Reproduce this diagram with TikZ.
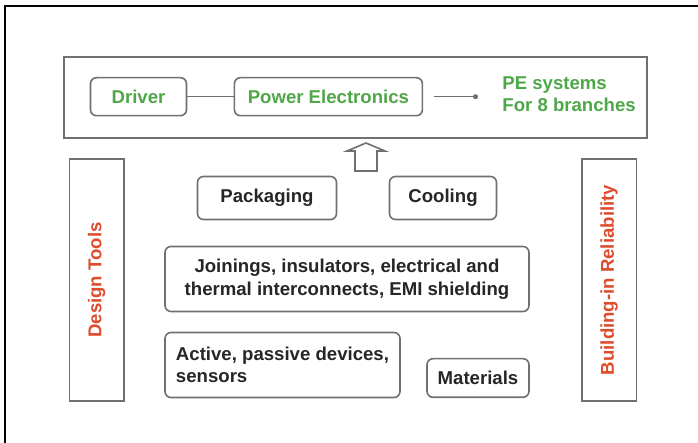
\documentclass[tikz,border=0pt]{standalone}
\usepackage{fontspec}
\setmainfont{Liberation Sans}
\usetikzlibrary{arrows.meta}

\definecolor{pegreen}{RGB}{78,168,72}
\definecolor{relred}{RGB}{222,76,46}
\definecolor{boxgray}{RGB}{112,112,112}
\definecolor{txtgray}{RGB}{38,38,38}

\tikzset{
  layer/.style={draw=boxgray, line width=.8pt, rounded corners=3pt, inner sep=0pt, align=center, text=txtgray},
  pillar/.style={draw=boxgray, line width=.8pt, rotate=90, minimum width=121pt, minimum height=27.3pt, inner sep=0pt, text=relred}
}

\begin{document}
\begin{tikzpicture}[x=.5pt, y=-.5pt, font=\fontsize{9.3}{11.3}\selectfont\bfseries]

  \useasboundingbox (0,0) rectangle (698,443);
  \fill[white] (0,0) rectangle (698,443);
  \draw[line width=.7pt] (5,443) -- (5,6) -- (698,6);

  \node[draw=boxgray, line width=1pt, minimum width=291.5pt, minimum height=40.75pt] (system) at (355.5,97.75) {};

  \begin{scope}[every node/.append style={layer, text=pegreen, minimum height=19pt}]
    \node[minimum width=48pt] (driver) at (138.5,96.7) {Driver};
    \node[minimum width=94pt] (pe) at (328.4,96.7) {Power Electronics};
  \end{scope}

  \node[anchor=west, align=left, text=pegreen, inner sep=0pt] (branches) at (502,94) {PE systems\\For 8 branches};

  \draw[boxgray, line width=.7pt] (driver) -- (pe);
  \draw[boxgray, line width=.5pt, -{Circle[length=2.5pt]}] ([xshift=5.5pt]pe.east) -- ([xshift=-12pt]branches.west |- pe.east);

  \draw[boxgray, line width=.8pt, fill=white] (355,171) -- (355,151) -- (347,151) -- (366,143) -- (385,151) -- (377,151) -- (377,171) -- cycle;

  \begin{scope}[every node/.append style={layer}]
    \node[minimum width=69.5pt, minimum height=21.5pt] (packaging) at (267,198) {Packaging};
    \node[minimum width=53.5pt, minimum height=21.5pt] (cooling) at (443,198) {Cooling};
    \node[minimum width=182pt, minimum height=32.5pt] (joinings) at (347,279) {Joinings, insulators, electrical and\\thermal interconnects, EMI shielding};
    \node[minimum width=117.5pt, minimum height=32.5pt, align=left] (devices) at (282.5,365) {Active, passive devices,\\sensors};
    \node[minimum width=51pt, minimum height=19.3pt] (materials) at (478,378) {Materials};
  \end{scope}

  \node[pillar] (tools) at (96.7,280) {Design Tools};
  \node[pillar] (reliability) at (609,280) {Building-in Reliability};

\end{tikzpicture}
\end{document}
